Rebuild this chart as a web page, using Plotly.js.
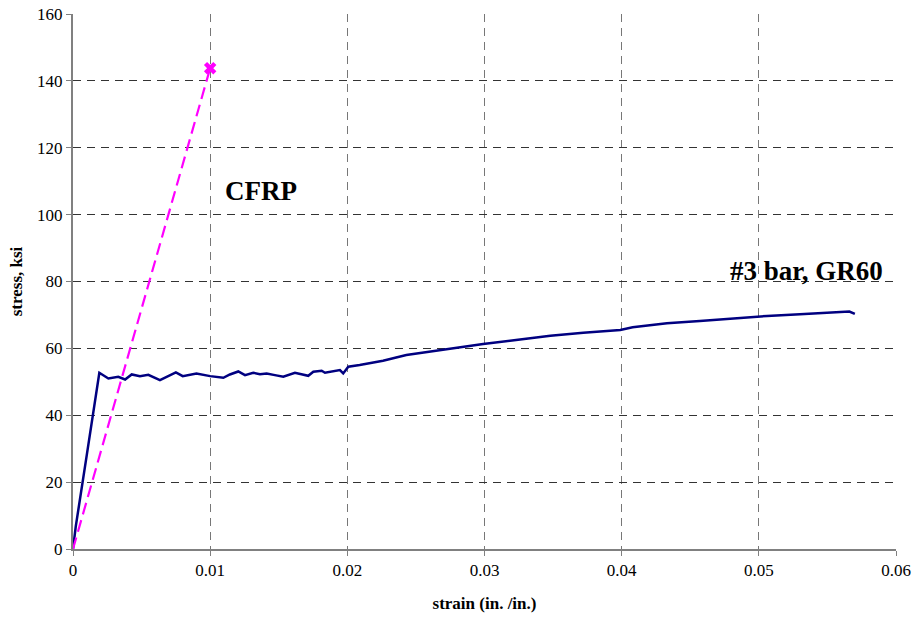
<!DOCTYPE html>
<html><head><meta charset="utf-8">
<script src="https://cdn.plot.ly/plotly-3.0.1.min.js"></script>
<style>body{margin:0;background:#fff}#chart{width:913px;height:617px}</style>
</head><body><div id="chart"></div>
<script>
const steelStrain = [0, 0.0002, 0.0010, 0.00192, 0.00258, 0.0033, 0.0038, 0.00428, 0.00488, 0.00549, 0.00634, 0.00695, 0.0075, 0.0080, 0.0090, 0.0100, 0.01096, 0.01144, 0.01205, 0.01254, 0.01314, 0.01363, 0.01412, 0.01472, 0.01533, 0.01618, 0.01715, 0.01752, 0.01813, 0.01837, 0.01946, 0.0197, 0.02007, 0.0209, 0.0226, 0.0243, 0.0265, 0.0287, 0.0299, 0.0323, 0.0348, 0.0372, 0.0399, 0.0408, 0.0433, 0.0457, 0.0481, 0.0506, 0.0530, 0.0554, 0.0566, 0.0570];
const steelStress = [0, 6.7, 28, 52.7, 51.0, 51.5, 50.7, 52.2, 51.7, 52.1, 50.5, 51.7, 52.8, 51.7, 52.5, 51.7, 51.2, 52.2, 53.1, 52.0, 52.7, 52.3, 52.5, 52.0, 51.5, 52.7, 51.8, 53.0, 53.3, 52.7, 53.5, 52.5, 54.5, 55.0, 56.3, 58.0, 59.3, 60.8, 61.3, 62.5, 63.8, 64.7, 65.5, 66.3, 67.5, 68.2, 69.0, 69.7, 70.2, 70.8, 71.0, 70.3];
const cfrpStrain = [0, 0.0100];
const cfrpStress = [0, 143.8];
const cfrpFailStrain = [0.0100];
const cfrpFailStress = [143.8];
const xTicks = [0, 0.01, 0.02, 0.03, 0.04, 0.05, 0.06];
const xTickLabels = ['0', '0.01', '0.02', '0.03', '0.04', '0.05', '0.06'];
const yTicks = [0, 20, 40, 60, 80, 100, 120, 140, 160];

const serif = 'Liberation Serif';
const traces = [
  {x: steelStrain, y: steelStress, mode: 'lines', line: {color: '#000080', width: 2.5}, showlegend: false, hoverinfo: 'skip'},
  {x: cfrpStrain, y: cfrpStress, mode: 'lines', line: {color: '#ff00ff', width: 2.2, dash: '12px,6px'}, showlegend: false, hoverinfo: 'skip'},
  {x: cfrpFailStrain, y: cfrpFailStress, mode: 'markers', marker: {symbol: 'x', size: 11, color: '#ff00ff'}, showlegend: false, hoverinfo: 'skip'}
];
const layout = {
  width: 913, height: 617,
  margin: {l: 73, r: 17, t: 14, b: 68},
  paper_bgcolor: '#fff', plot_bgcolor: '#fff',
  font: {family: serif, size: 17, color: '#000'},
  xaxis: {
    range: [0, 0.06], tickvals: xTicks, ticktext: xTickLabels,
    showgrid: true, gridcolor: '#777', griddash: '8px,6px', gridwidth: 1,
    showline: true, linecolor: '#808080', linewidth: 2,
    ticks: 'outside', ticklen: 5, tickcolor: '#808080', tickwidth: 1,
    zeroline: false, tickfont: {family: serif, size: 17},
    title: {text: '<b>strain (in. /in.)</b>', font: {family: serif, size: 17}, standoff: 18}
  },
  yaxis: {
    range: [0, 160], tickvals: yTicks,
    showgrid: true, gridcolor: '#333', griddash: '8px,6px', gridwidth: 1,
    showline: true, linecolor: '#808080', linewidth: 2,
    ticks: 'outside', ticklen: 5, tickcolor: '#808080', tickwidth: 1,
    zeroline: false, tickfont: {family: serif, size: 17},
    title: {text: '<b>stress, ksi</b>', font: {family: serif, size: 17}, standoff: 10}
  },
  annotations: [
    {x: 0.0137, y: 107, xref: 'x', yref: 'y', text: '<b>CFRP</b>', showarrow: false, font: {family: serif, size: 27, color: '#000'}},
    {x: 0.0535, y: 83, xref: 'x', yref: 'y', text: '<b>#3 bar, GR60</b>', showarrow: false, font: {family: serif, size: 27, color: '#000'}}
  ]
};
Plotly.newPlot('chart', traces, layout, {displayModeBar: false, staticPlot: true});
</script></body></html>
